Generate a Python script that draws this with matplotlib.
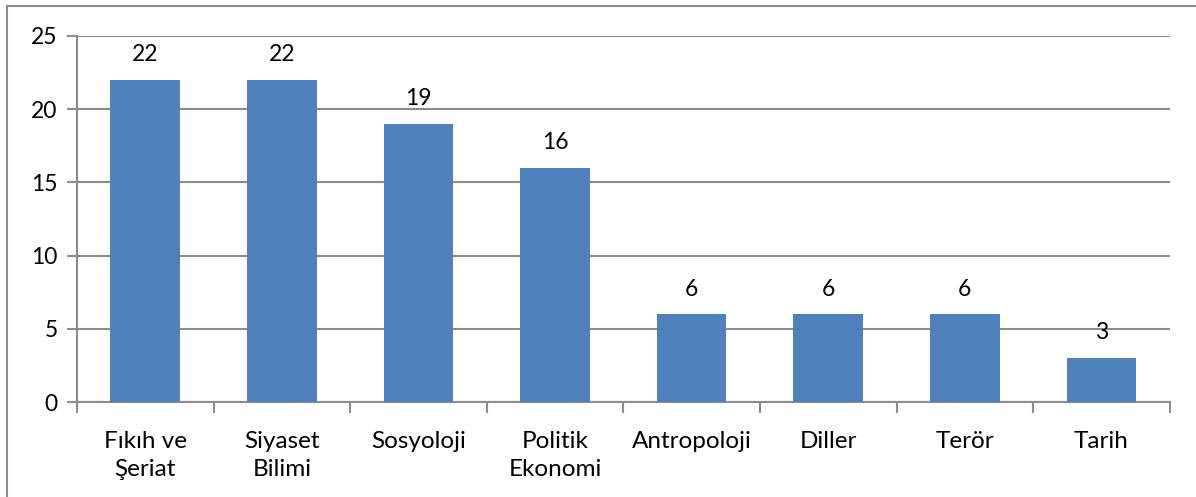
import matplotlib.pyplot as plt
from matplotlib.lines import Line2D

categories = ['Fıkıh ve\nŞeriat', 'Siyaset\nBilimi', 'Sosyoloji', 'Politik\nEkonomi',
              'Antropoloji', 'Diller', 'Terör', 'Tarih']
counts = [22, 22, 19, 16, 6, 6, 6, 3]
y_ticks = [0, 5, 10, 15, 20, 25]

plt.rcParams['font.family'] = ['Lato', 'DejaVu Sans']
grid_color = '#8c8c8c'

fig = plt.figure(figsize=(11.96, 4.97), dpi=100)
ax = fig.add_axes([0.0644, 0.191, 0.9136, 0.7366])

x = list(range(len(categories)))
ax.bar(x, counts, width=0.51, color='#4f81bd', zorder=3)
for xi, c in zip(x, counts):
    ax.text(xi, c + 1.0, str(c), ha='center', va='bottom', fontsize=16.5, color='black')

ax.set_xlim(-0.5, len(categories) - 0.5)
ax.set_ylim(0, 25)
ax.set_yticks(y_ticks)
ax.yaxis.grid(True, color=grid_color, linewidth=1.5, zorder=0)
ax.set_xticks(x)
ax.set_xticklabels(categories, fontsize=17.5, linespacing=1.4)
ax.set_xticks([i - 0.5 for i in range(len(categories) + 1)], minor=True)
ax.tick_params(axis='x', which='major', length=0, pad=21)
ax.tick_params(axis='x', which='minor', length=8, width=1.5, color=grid_color)
ax.tick_params(axis='y', length=7, width=1.5, color=grid_color, labelsize=16.5, pad=7)

for side in ['top', 'right']:
    ax.spines[side].set_visible(False)
for side in ['left', 'bottom']:
    ax.spines[side].set_color(grid_color)
    ax.spines[side].set_linewidth(1.5)

# outer frame (only left and top visible in the reference)
fig.add_artist(Line2D([7 / 1196, 7 / 1196], [0, 1 - 6 / 497], transform=fig.transFigure,
                      color='#8c8c8c', linewidth=1.5))
fig.add_artist(Line2D([7 / 1196, 1], [1 - 6 / 497, 1 - 6 / 497], transform=fig.transFigure,
                      color='#8c8c8c', linewidth=1.5))

fig.savefig('out.png', dpi=100)
